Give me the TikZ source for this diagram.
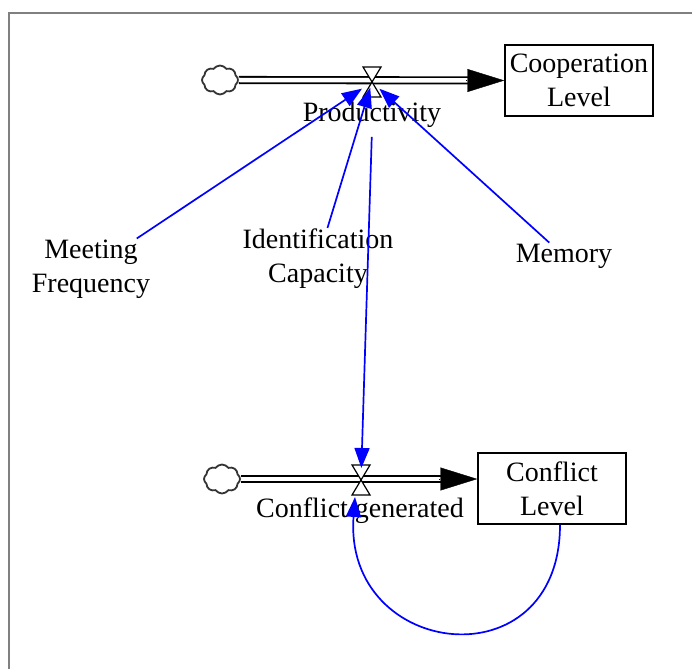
\documentclass[tikz,border=0pt]{standalone}
\usepackage{fontspec}
\setmainfont{Liberation Serif}
\usetikzlibrary{arrows.meta,shapes.symbols,calc}
\definecolor{linkblue}{RGB}{0,0,255}
\definecolor{framegray}{RGB}{128,128,128}
\tikzset{
  lbl/.style={font=\fontsize{28}{34}\selectfont, align=center, inner sep=1pt},
  stock/.style={draw=black, line width=1.4pt, minimum width=148pt, minimum height=71pt, align=center, inner sep=0pt, font=\fontsize{28}{34}\selectfont},
  src/.style={shape=cloud, cloud puffs=8, cloud puff arc=110, aspect=1.3, draw=black!80, line width=1.8pt, minimum width=36pt, minimum height=29pt, inner sep=0pt},
  pipe/.style={draw=black, line width=1.8pt, double=white, double distance=4.5pt},
  flowtip/.style={-{Triangle[length=37pt,width=23pt]}, line width=0.4pt, black},
  link/.style={draw=linkblue, line width=1.7pt, -{Triangle[length=20pt,width=15pt]}},
  valvestyle/.style={draw=black, line width=1.2pt, fill=white}
}
\begin{document}
\begin{tikzpicture}[x=1pt,y=-1pt]
\useasboundingbox (0,0) rectangle (692,668);
\clip (0,0) rectangle (692,668);
% frame
\draw[framegray, line width=1.6pt] (9,720) -- (9,13) -- (720,13);

% ---- top flow ----
\node[src] (c1) at (220,80) {};
\node[stock] (coop) at (579,80.5) {Cooperation\\Level};
\coordinate (v1) at (372,82);
\draw[pipe, shorten >=36pt] (c1.east) -- (coop.west);
\draw[flowtip] ([xshift=-38pt]coop.west) -- (coop.west);
\draw[valvestyle] ([shift={(-9,-15)}]v1) -- ([shift={(9,-15)}]v1) -- ([shift={(-9,15)}]v1) -- ([shift={(9,15)}]v1) -- cycle;
\node[lbl] (prod) at (372,115) {Productivity};

% ---- bottom flow ----
\node[src] (c2) at (222,479) {};
\node[stock] (cl) at (552,488.5) {Conflict\\Level};
\coordinate (v2) at (361,480);
\draw[pipe, shorten >=36pt] (c2.east) -- (c2.east -| cl.west);
\draw[flowtip] ([xshift=-38pt]c2.east -| cl.west) -- (c2.east -| cl.west);
\draw[valvestyle] ([shift={(-9,-15)}]v2) -- ([shift={(9,-15)}]v2) -- ([shift={(-9,15)}]v2) -- ([shift={(9,15)}]v2) -- cycle;
\node[lbl] (cg) at (360,511) {Conflict generated};

% ---- auxiliaries ----
\node[lbl] (mf) at (91,269) {Meeting\\Frequency};
\node[lbl] (ic) at (318,259) {Identification\\Capacity};
\node[lbl] (me) at (564,256) {Memory};

% ---- links ----
\draw[link, shorten >=12pt] (mf) -- (v1);
\draw[link, shorten >=6pt] (ic) -- (v1);
\draw[link, shorten >=10pt] (me) -- (v1);
\draw[link, shorten <=8pt, shorten >=12pt] (prod.south) -- (v2);
\coordinate (v2in) at (355,497);
\draw[link] ([xshift=8pt]cl.south) .. controls +(0,160) and +(-12,162) .. (v2in);
\end{tikzpicture}
\end{document}
